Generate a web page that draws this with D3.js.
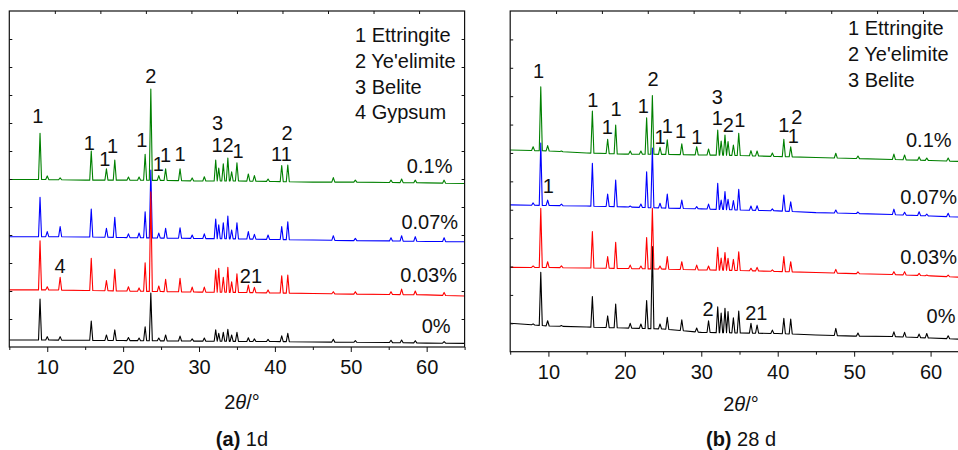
<!DOCTYPE html>
<html>
<head>
<meta charset="utf-8">
<script src="https://cdn.jsdelivr.net/npm/d3@7"></script>
<style>
  body { margin: 0; background: #fff; }
  text { font-family: "Liberation Sans", Arial, Helvetica, sans-serif; fill: #111; }
</style>
</head>
<body>
<svg id="chart" width="958" height="450"></svg>
<script>
// 2theta positions where the background level was read
const knots = [5, 10, 15, 20, 25, 30, 35, 40, 45, 50, 55, 60, 65];
const xTicks = [10, 20, 30, 40, 50, 60];
const xMinor = [5, 15, 25, 35, 45, 55, 65];

// ---- (a) 1 d ----
const posA = [9.05, 10.0, 11.7, 15.8, 17.8, 18.9, 20.7, 22.1, 22.9, 23.65, 24.7, 25.6, 27.5, 29.1, 30.7, 32.2,
              32.6, 33.2, 33.8, 34.3, 35.0, 36.5, 37.3, 39.1, 40.9, 41.7, 47.7, 50.6, 55.3, 56.7, 58.5, 62.3];
const baseA_0   = [2.5, 2.5, 2.4, 2.3, 2.2, 2.1, 2.0, 1.95, 1.8, 1.7, 1.6, 1.4, 1.3];
const topA_0    = [17.1, 3.7, 3.7, 9.3, 4.3, 6.1, 3.4, 3.2, 7.25, 19.3, 3.2, 4.3, 3.9, 2.9, 3.2, 6.1,
                   4.9, 5.25, 6.3, 4.3, 5.25, 3.3, 2.9, 2.7, 4.0, 4.9, 2.75, 2.25, 2.4, 2.5, 2.25, 1.9];
const baseA_003 = [20.4, 20.4, 20.2, 20.0, 19.8, 19.6, 19.5, 19.3, 19.1, 18.9, 18.75, 18.6, 18.2];
const topA_003  = [37.9, 21.5, 24.9, 31.7, 23.7, 27.75, 21.5, 21.1, 30.1, 55.4, 21.8, 24.2, 24.5, 21.4, 21.4, 27.5,
                   28.1, 24.9, 28.5, 23.3, 26.1, 22.1, 21.3, 20.4, 25.4, 25.7, 19.75, 19.75, 19.75, 20.7, 20.0, 19.5];
const baseA_007 = [39.4, 39.4, 39.3, 39.1, 38.9, 38.75, 38.6, 38.4, 38.2, 38.0, 37.9, 37.7, 37.6];
const topA_007  = [53.5, 41.2, 43.0, 49.3, 42.4, 46.3, 40.4, 40.7, 48.3, 63.2, 40.7, 42.4, 42.6, 40.0, 40.4, 45.7,
                   43.6, 44.4, 46.8, 41.8, 44.4, 41.2, 40.25, 40.0, 43.0, 44.75, 39.75, 38.8, 39.0, 39.75, 39.4, 39.0];
const baseA_01  = [59.8, 59.8, 59.6, 59.6, 59.5, 59.3, 59.3, 59.1, 58.9, 58.9, 58.75, 58.6, 58.4];
const topA_01   = [76.3, 61.1, 60.4, 70.0, 63.6, 66.8, 60.7, 60.7, 68.8, 92.1, 61.2, 63.6, 63.6, 60.4, 60.8, 66.8,
                   63.9, 65.4, 67.5, 62.6, 65.8, 61.8, 61.2, 60.0, 64.8, 65.0, 60.5, 59.6, 59.6, 60.0, 59.6, 59.6];
const peakLabelsA = [
  ["1", 8.75, 80], ["1", 15.55, 70.4], ["1", 17.6, 64.6], ["1", 18.6, 69.4], ["1", 22.45, 71.5],
  ["2", 23.65, 94.3], ["1", 24.65, 62.9], ["1", 25.6, 66.2], ["1", 27.5, 66.5], ["3", 32.45, 77.5],
  ["12", 33.1, 69.5], ["1", 35.15, 67.4], ["11", 40.87, 66.4],
  ["2", 41.6, 73.9], ["4", 11.7, 26.5], ["21", 36.85, 22.75]
];
const seriesLabelsA = [["0%", 63.15, 4.9], ["0.03%", 64.0, 23.3], ["0.07%", 64.15, 42.0], ["0.1%", 63.4, 62.0]];
const legendA = ["1 Ettringite", "2 Ye'elimite", "3 Belite", "4 Gypsum"];

// ---- (b) 28 d ----
const posB = [8.0, 9.0, 9.9, 11.7, 15.75, 17.75, 18.8, 20.7, 22.1, 22.85, 23.6, 24.6, 25.55, 27.45, 29.4, 30.95, 32.15,
              32.6, 33.1, 33.5, 34.2, 34.9, 36.5, 37.3, 39.3, 40.8, 41.7, 47.6, 50.5, 55.2, 56.6, 58.5, 59.5, 62.3];
const baseB_0   = [10.0, 9.05, 8.7, 8.35, 8.0, 6.8, 6.6, 6.4, 5.9, 5.5, 5.35, 4.8, 4.3];
const topB_0    = [9.8, 28.0, 10.9, 9.2, 19.4, 12.6, 16.8, 10.0, 9.75, 18.0, 37.0, 9.75, 12.1, 11.2, 8.35, 10.9, 15.85,
                   13.6, 15.3, 14.1, 11.9, 14.3, 10.0, 9.4, 7.6, 11.8, 11.5, 8.2, 6.6, 7.0, 6.8, 6.2, 6.4, 5.6];
const baseB_003 = [29.7, 29.65, 29.5, 29.3, 29.1, 28.8, 28.6, 28.25, 27.9, 27.5, 27.2, 26.7, 26.1];
const topB_003  = [30.2, 50.5, 31.7, 30.2, 42.3, 33.5, 38.5, 30.5, 30.2, 40.2, 50.5, 30.2, 33.5, 31.7, 30.5, 30.2, 36.8,
                   33.0, 34.9, 32.9, 32.5, 35.2, 29.4, 29.7, 28.8, 33.5, 31.7, 29.0, 28.1, 28.2, 28.2, 27.6, 27.0, 27.0];
const baseB_007 = [51.7, 51.5, 51.3, 51.0, 50.6, 50.3, 49.9, 49.6, 49.0, 48.7, 48.3, 47.8, 47.3];
const topB_007  = [52.4, 73.5, 53.4, 52.0, 66.4, 55.5, 60.5, 51.3, 52.0, 63.4, 71.75, 52.3, 55.5, 53.4, 51.1, 52.0, 59.3,
                   53.4, 56.4, 53.7, 53.2, 57.2, 51.3, 51.4, 50.3, 55.2, 52.8, 49.9, 49.2, 50.2, 49.1, 49.3, 48.5, 48.75];
const baseB_01  = [71.05, 70.7, 70.0, 69.6, 69.5, 69.3, 69.1, 68.75, 68.4, 68.05, 67.7, 67.35, 66.9];
const topB_01   = [72.2, 93.3, 72.6, 70.7, 84.8, 74.8, 79.85, 70.7, 70.7, 82.4, 90.2, 72.0, 74.6, 73.2, 72.2, 71.4, 78.1,
                   74.2, 76.3, 74.0, 72.8, 76.9, 70.8, 70.7, 70.0, 74.8, 72.2, 69.9, 68.9, 69.6, 69.3, 68.6, 68.2, 68.2];
const peakLabelsB = [
  ["1", 8.7, 96.3], ["2", 23.7, 93.7], ["1", 15.8, 86.1], ["1", 17.7, 76.7], ["1", 18.85, 83.0],
  ["1", 22.4, 84.0], ["1", 24.6, 73.05], ["1", 25.55, 76.9], ["1", 27.3, 75.2], ["1", 29.4, 73.05],
  ["3", 32.1, 87.1], ["1", 32.1, 79.85], ["2", 33.55, 77.5], ["1", 35.05, 79.0], ["1", 40.8, 77.5],
  ["2", 42.5, 80.2], ["1", 42.05, 73.4], ["1", 10.0, 55.8], ["2", 30.9, 12.6], ["21", 37.2, 11.2]
];
const seriesLabelsB = [["0%", 63.25, 10.0], ["0.03%", 63.45, 30.9], ["0.07%", 63.45, 52.0], ["0.1%", 62.75, 72.0]];
const legendB = ["1 Ettringite", "2 Ye'elimite", "3 Belite"];

// drawing order: 0%, 0.07%, 0.03%, 0.1%
const colors = {"0%": "#000000", "0.03%": "#ff0000", "0.07%": "#0000ff", "0.1%": "#008000"};
const halfWidth = 0.2;

function profile(pos, top, base) {
  const baseAt = d3.scaleLinear().domain(knots).range(base);
  const pts = knots.map((k, i) => [k, base[i]])
    .filter(p => !pos.some(q => Math.abs(q - p[0]) <= halfWidth));
  pos.forEach((p, i) => {
    pts.push([p - halfWidth, baseAt(p - halfWidth)], [p, top[i]], [p + halfWidth, baseAt(p + halfWidth)]);
  });
  return pts.sort((a, b) => a[0] - b[0]);
}

const svg = d3.select("#chart");
const font = 20;

function drawPanel(cfg) {
  const x = d3.scaleLinear().domain([5, 65]).range([cfg.left, cfg.right]);
  const y = d3.scaleLinear().domain([0, 120]).range([cfg.bottom, cfg.top]);
  const g = svg.append("g");

  const line = d3.line().x(d => x(d[0])).y(d => y(d[1]));
  cfg.series.forEach(s => {
    g.append("path")
      .datum(profile(cfg.pos, s.top, s.base))
      .attr("fill", "none")
      .attr("stroke", colors[s.name])
      .attr("stroke-width", 1.1)
      .attr("stroke-linejoin", "round")
      .attr("d", line);
  });

  // frame
  g.append("rect")
    .attr("x", cfg.left).attr("y", cfg.top)
    .attr("width", cfg.right - cfg.left).attr("height", cfg.bottom - cfg.top)
    .attr("fill", "none").attr("stroke", "#111").attr("stroke-width", 1.2);

  // bottom axis, major + minor ticks
  const bottom = g.append("g")
    .attr("transform", `translate(0,${cfg.bottom})`)
    .call(d3.axisBottom(x).tickValues(xTicks).tickSize(5).tickPadding(8).tickFormat(d3.format("d")));
  bottom.select(".domain").remove();
  bottom.selectAll("text").style("font-size", font + "px").attr("fill", "#111");
  bottom.selectAll("line").attr("stroke", "#111");
  const minor = g.append("g")
    .attr("transform", `translate(0,${cfg.bottom})`)
    .call(d3.axisBottom(x).tickValues(xMinor).tickSize(3).tickFormat(""));
  minor.select(".domain").remove();
  minor.selectAll("line").attr("stroke", "#111");

  // inner ticks on top, left and right
  const topTicks = d3.range(1, 10).map(i => 5 + i * 6);
  const yTicks = d3.range(10, 120, 10);
  const t = g.append("g").attr("transform", `translate(0,${cfg.top})`)
    .call(d3.axisTop(x).tickValues(topTicks).tickSize(-3).tickFormat(""));
  const l = g.append("g").attr("transform", `translate(${cfg.left},0)`)
    .call(d3.axisLeft(y).tickValues(yTicks).tickSize(-3).tickFormat(""));
  const r = g.append("g").attr("transform", `translate(${cfg.right},0)`)
    .call(d3.axisRight(y).tickValues(yTicks).tickSize(-3).tickFormat(""));
  [t, l, r].forEach(a => { a.select(".domain").remove(); a.selectAll("line").attr("stroke", "#111"); });

  // peak labels
  g.selectAll(".peak").data(cfg.peakLabels).join("text")
    .attr("x", d => x(d[1])).attr("y", d => y(d[2]))
    .attr("text-anchor", "middle")
    .style("font-size", font + "px")
    .text(d => d[0]);

  g.selectAll(".pct").data(cfg.seriesLabels).join("text")
    .attr("x", d => x(d[1])).attr("y", d => y(d[2]))
    .attr("text-anchor", "end")
    .style("font-size", font + "px")
    .text(d => d[0]);

  g.selectAll(".leg").data(cfg.legend).join("text")
    .attr("x", cfg.legX).attr("y", (d, i) => cfg.legY + i * 25.8)
    .style("font-size", font + "px")
    .text(d => d);

  // axis title
  const title = g.append("text")
    .attr("x", cfg.titleX).attr("y", cfg.titleY)
    .attr("text-anchor", "middle")
    .style("font-size", font + "px");
  title.append("tspan").text("2");
  title.append("tspan").style("font-style", "italic").text("\u03b8");
  title.append("tspan").text("/\u00b0");

  const cap = g.append("text")
    .attr("x", cfg.titleX).attr("y", 446)
    .attr("text-anchor", "middle")
    .style("font-size", font + "px");
  cap.append("tspan").style("font-weight", "bold").text(cfg.tag);
  cap.append("tspan").text(" " + cfg.caption);
}

drawPanel({
  left: 9.3, right: 464.6, top: 11, bottom: 347,
  pos: posA,
  series: [
    {name: "0%", base: baseA_0, top: topA_0},
    {name: "0.07%", base: baseA_007, top: topA_007},
    {name: "0.03%", base: baseA_003, top: topA_003},
    {name: "0.1%", base: baseA_01, top: topA_01}
  ],
  peakLabels: peakLabelsA, seriesLabels: seriesLabelsA, legend: legendA,
  legX: 355, legY: 42, titleX: 242, titleY: 409, tag: "(a)", caption: "1d"
});

drawPanel({
  left: 510.2, right: 968.8, top: 11, bottom: 351.7,
  pos: posB,
  series: [
    {name: "0%", base: baseB_0, top: topB_0},
    {name: "0.07%", base: baseB_007, top: topB_007},
    {name: "0.03%", base: baseB_003, top: topB_003},
    {name: "0.1%", base: baseB_01, top: topB_01}
  ],
  peakLabels: peakLabelsB, seriesLabels: seriesLabelsB, legend: legendB,
  legX: 848, legY: 35, titleX: 741, titleY: 411, tag: "(b)", caption: "28 d"
});
</script>
</body>
</html>
